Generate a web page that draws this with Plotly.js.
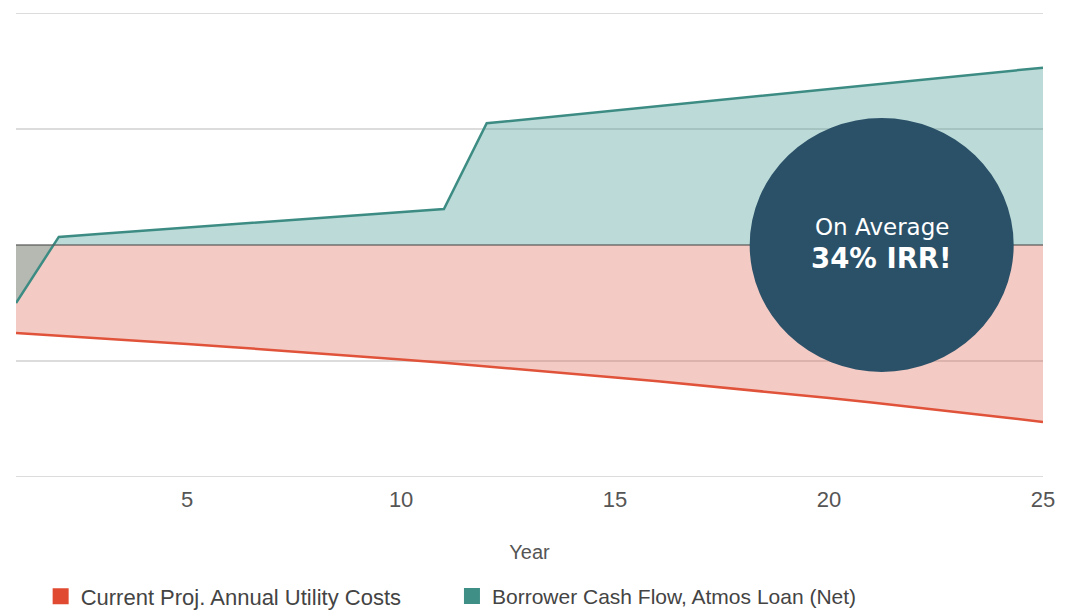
<!DOCTYPE html>
<html>
<head>
<meta charset="utf-8">
<script src="https://cdn.plot.ly/plotly-3.0.1.min.js"></script>
<style>html,body{margin:0;padding:0;background:#fff;}#chart{width:1083px;height:611px;}</style>
</head>
<body>
<div id="chart"></div>
<script>
const years = [1,2,3,4,5,6,7,8,9,10,11,12,13,14,15,16,17,18,19,20,21,22,23,24,25];
const utilityCosts = [-0.760,-0.782,-0.806,-0.829,-0.854,-0.879,-0.905,-0.932,-0.959,-0.987,-1.016,-1.046,-1.077,-1.109,-1.142,-1.175,-1.210,-1.246,-1.282,-1.320,-1.359,-1.399,-1.441,-1.483,-1.527];
const borrowerCashFlow = [-0.500,0.070,0.097,0.123,0.150,0.177,0.203,0.230,0.257,0.283,0.310,1.050,1.087,1.124,1.161,1.198,1.235,1.271,1.308,1.345,1.382,1.419,1.456,1.493,1.530];
const seriesNames = ['Current Proj. Annual Utility Costs','Borrower Cash Flow, Atmos Loan (Net)'];
const xTicks = [5,10,15,20,25];
const circleTextLine1 = 'On Average';
const circleTextLine2 = '34% IRR!';

const red = '#e0533a';
const teal = '#3d8c84';

const traces = [
  {x: years, y: utilityCosts, type:'scatter', mode:'lines', fill:'tozeroy',
   fillcolor:'rgba(222,92,70,0.32)', line:{color:red, width:2.5}, showlegend:false, hoverinfo:'skip'},
  {x: years, y: borrowerCashFlow, type:'scatter', mode:'lines', fill:'tozeroy',
   fillcolor:'rgba(60,150,140,0.34)', line:{color:teal, width:2.5}, showlegend:false, hoverinfo:'skip'},
  {x:[null], y:[null], type:'scatter', mode:'markers', name: seriesNames[0], legend:'legend',
   marker:{symbol:'square', size:20, color:'#e04a30'}},
  {x:[null], y:[null], type:'scatter', mode:'markers', name: seriesNames[1], legend:'legend2',
   marker:{symbol:'square', size:20, color:'#3f8f87'}}
];

const layout = {
  width:1083, height:611,
  margin:{l:16, r:40, t:12, b:133, autoexpand:false},
  paper_bgcolor:'#fff', plot_bgcolor:'#fff',
  font:{family:'Liberation Sans, Arial, sans-serif', color:'#555'},
  xaxis:{range:[1,25], tickvals:xTicks, showgrid:false, zeroline:false, showline:false,
    ticks:'', ticklabelstandoff:6, tickfont:{size:22, color:'#555'}, automargin:false,
    title:{text:'Year', font:{size:20, color:'#555'}, standoff:33}},
  yaxis:{range:[-2.01,2.01], dtick:1, showticklabels:false, gridcolor:'#dcdcdc', gridwidth:1.3,
    zeroline:false, showline:false, automargin:false},
  showlegend:true,
  legend:{orientation:'h', x:0.024, xanchor:'left', y:-0.254, yanchor:'middle',
    font:{size:22, color:'#444'}, itemwidth:30},
  legend2:{orientation:'h', x:0.4245, xanchor:'left', y:-0.254, yanchor:'middle',
    font:{size:21, color:'#444'}, itemwidth:30},
  shapes:[
    {type:'line', xref:'paper', x0:0, x1:1, yref:'y', y0:0, y1:0, layer:'above',
     line:{color:'#555', width:1.2}},
    {type:'circle', xref:'x', yref:'y', xsizemode:'pixel', ysizemode:'pixel',
     xanchor:21.23, yanchor:0, x0:-132, x1:132, y0:-127, y1:127,
     fillcolor:'#2b5169', line:{width:0}, layer:'above'}
  ],
  annotations:[
    {x:21.23, y:0, xref:'x', yref:'y', yshift:18, showarrow:false, text:circleTextLine1,
     font:{family:'DejaVu Sans, sans-serif', size:23, color:'#ffffff'}},
    {x:21.23, y:0, xref:'x', yref:'y', yshift:-13, showarrow:false, text:'<b>'+circleTextLine2+'</b>',
     font:{family:'DejaVu Sans, sans-serif', size:27.5, color:'#ffffff'}}
  ]
};

Plotly.newPlot('chart', traces, layout, {displayModeBar:false, staticPlot:true});
</script>
</body>
</html>
